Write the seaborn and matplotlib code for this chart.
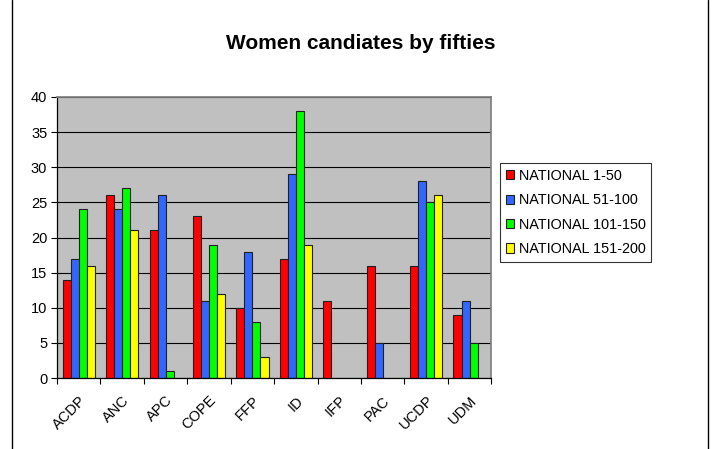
import matplotlib.pyplot as plt
import seaborn as sns
import pandas as pd
import numpy as np
from matplotlib.lines import Line2D

parties = ["ACDP", "ANC", "APC", "COPE", "FFP", "ID", "IFP", "PAC", "UCDP", "UDM"]
series = ["NATIONAL 1-50", "NATIONAL 51-100", "NATIONAL 101-150", "NATIONAL 151-200"]
nat_1_50 = [14, 26, 21, 23, 10, 17, 11, 16, 16, 9]
nat_51_100 = [17, 24, 26, 11, 18, 29, np.nan, 5, 28, 11]
nat_101_150 = [24, 27, 1, 19, 8, 38, np.nan, np.nan, 25, 5]
nat_151_200 = [16, 21, np.nan, 12, 3, 19, np.nan, np.nan, 26, np.nan]
colors = ["#FF0000", "#3366FF", "#00FF00", "#FFFF00"]

df = pd.DataFrame({"party": parties, series[0]: nat_1_50, series[1]: nat_51_100,
                   series[2]: nat_101_150, series[3]: nat_151_200})
df = df.melt(id_vars="party", var_name="range", value_name="count")

sns.set_theme(style="white")
plt.rcParams["font.family"] = ["Liberation Sans", "DejaVu Sans"]
plt.rcParams["text.color"] = "black"
plt.rcParams["xtick.color"] = "black"
plt.rcParams["ytick.color"] = "black"

fig = plt.figure(figsize=(7.13, 4.49), dpi=100)
ax = fig.add_axes([0.080, 0.158, 0.609, 0.626])

sns.barplot(data=df, x="party", y="count", hue="range", order=parties, hue_order=series,
            palette=colors, width=0.74, edgecolor="#202020", linewidth=0.8,
            saturation=1, ax=ax, gap=0)

ax.set_facecolor("#C0C0C0")
ax.set_ylim(0, 40)
ax.set_yticks(range(0, 41, 5))
ax.yaxis.grid(True, color="black", linewidth=0.8)
ax.set_axisbelow(True)
ax.set_xlim(-0.5, len(parties) - 0.5)
ax.set_xlabel("")
ax.set_ylabel("")
for s in ["top", "right"]:
    ax.spines[s].set_color("#808080")
for s in ["left", "bottom"]:
    ax.spines[s].set_color("black")
    ax.spines[s].set_linewidth(0.9)

ax.tick_params(axis="y", left=True, length=4, width=0.8, color="black", labelsize=10.5, pad=3)
ax.tick_params(axis="x", which="major", length=0, labelsize=10.5, pad=11)
ax.set_xticks(np.arange(-0.5, len(parties)), minor=True)
ax.tick_params(axis="x", which="minor", bottom=True, length=4, width=0.8, color="black")
plt.setp(ax.get_xticklabels(), rotation=45, ha="right", rotation_mode="anchor")

leg = ax.legend(loc="upper left", bbox_to_anchor=(1.02, 0.765), frameon=True, fancybox=False,
                fontsize=10.4, handlelength=0.6, handleheight=0.6, handletextpad=0.3,
                labelspacing=0.72, borderpad=0.4, borderaxespad=0, edgecolor="black")
leg.get_frame().set_linewidth(0.8)

fig.text(0.506, 0.904, "Women candiates by fifties", ha="center", va="center",
         fontsize=15, fontweight="bold")

fig.add_artist(Line2D([12 / 713, 12 / 713], [0, 1], color="black", linewidth=1))
fig.add_artist(Line2D([708 / 713, 708 / 713], [0, 1], color="black", linewidth=1))

fig.savefig("out.png", dpi=100)
